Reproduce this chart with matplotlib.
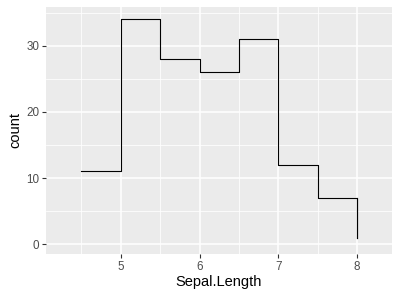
import numpy as np
import matplotlib.pyplot as plt

plt.rcParams['font.family'] = ['Liberation Sans', 'DejaVu Sans']

# step points (bin left edges, count), last point at 8
sepal_length = [4.5, 5.0, 5.5, 6.0, 6.5, 7.0, 7.5, 8.0]
counts = [11, 34, 28, 26, 31, 12, 7, 1]

x_ticks = [5, 6, 7, 8]
y_ticks = [0, 10, 20, 30]

fig = plt.figure(figsize=(4, 3), dpi=100)
ax = fig.add_axes([46 / 400, 1 - 254 / 300, 346 / 400, 247 / 300])
ax.set_facecolor('#EBEBEB')

ax.set_xlim(4.05, 8.445)
ax.set_ylim(-1.47, 35.85)

# minor grid
for xv in [4.5, 5.5, 6.5, 7.5]:
    ax.axvline(xv, color='white', lw=0.55, zorder=1)
for yv in [5, 15, 25, 35]:
    ax.axhline(yv, color='white', lw=0.55, zorder=1)
# major grid
for xv in x_ticks:
    ax.axvline(xv, color='white', lw=1.1, zorder=1)
for yv in y_ticks:
    ax.axhline(yv, color='white', lw=1.1, zorder=1)

ax.step(sepal_length, counts, where='post', color='black', lw=0.8, zorder=3)
# final vertical drop to the last value
ax.plot([sepal_length[-1], sepal_length[-1]], [counts[-2], counts[-1]],
        color='black', lw=0.8, zorder=3)

ax.set_xticks(x_ticks)
ax.set_xticklabels([str(v) for v in x_ticks])
ax.set_yticks(y_ticks)
ax.set_yticklabels([str(v) for v in y_ticks])
ax.tick_params(color='#333333', labelcolor='#4D4D4D', labelsize=8.4,
               length=2.7, width=0.8, pad=2)
for s in ax.spines.values():
    s.set_visible(False)

ax.set_xlabel('Sepal.Length', fontsize=10.5, color='black', labelpad=2)
ax.set_ylabel('count', fontsize=10.5, color='black', labelpad=3)

fig.savefig('out.png', dpi=100)
